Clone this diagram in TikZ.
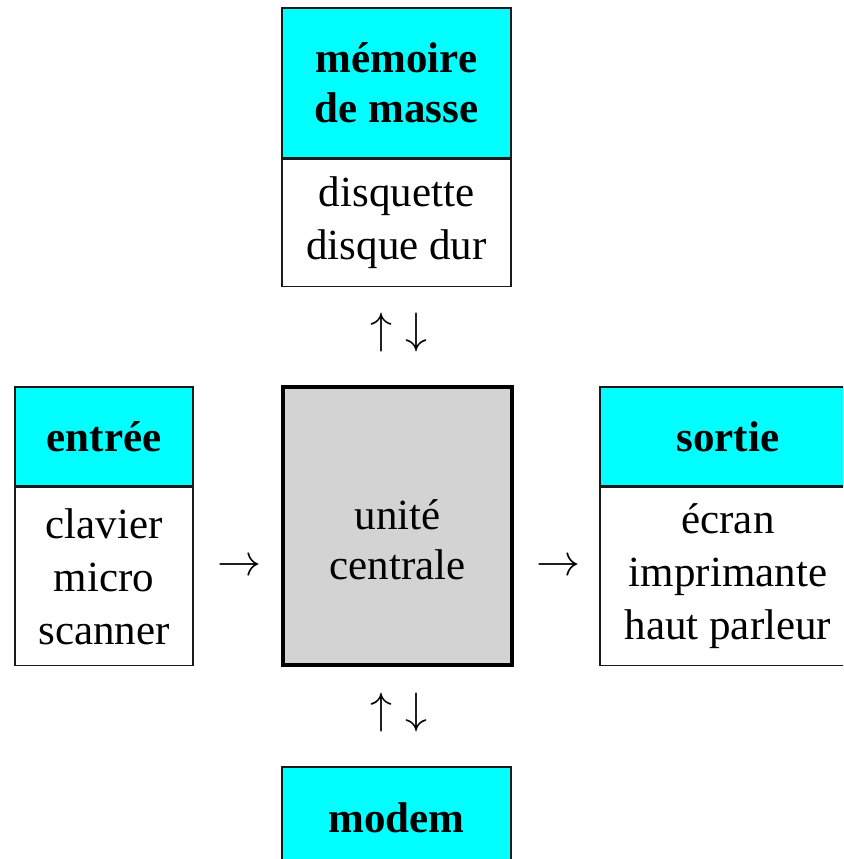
\RequirePackage{fix-cm}
\documentclass[tikz,border=0pt]{standalone}
\usepackage{fontspec}
\setmainfont{Liberation Serif}
\definecolor{headcyan}{HTML}{00FFFF}
\definecolor{cpugray}{HTML}{D3D3D3}
\definecolor{edge}{HTML}{1A1A1A}
\tikzset{
  boxpart/.style={draw=edge, line width=1.5pt, inner sep=0pt, align=center,
    font=\fontsize{43}{53}\selectfont},
  headpart/.style={boxpart, fill=headcyan, font=\fontsize{43}{50}\selectfont\bfseries},
  bodypart/.style={boxpart, fill=white},
  cpubox/.style={draw=black, line width=4pt, fill=cpugray, inner sep=0pt},
  glyph/.style={inner sep=0pt, font=\fontsize{44}{53}\selectfont},
  plain/.style={inner sep=0pt, align=center, font=\fontsize{43}{50}\selectfont}
}
\begin{document}
\begin{tikzpicture}[x=1pt, y=-1pt]
  \useasboundingbox (0,0) rectangle (843,859);
  \clip (0,0) rectangle (843,859);
  \fill[white] (0,0) rectangle (843,859);

  % mass storage (top)
  \node[headpart, minimum width=229pt, minimum height=150pt] (memhead) at (396.5,83)
    {mémoire\\de masse};
  \node[bodypart, minimum width=229pt, minimum height=127pt, anchor=north] (membody)
    at (memhead.south) {disquette\\disque dur};

  % input (left)
  \node[headpart, minimum width=178pt, minimum height=99pt] (inhead) at (104,436.5)
    {entrée};
  \node[bodypart, minimum width=178pt, minimum height=178pt, anchor=north] (inbody)
    at (inhead.south) {clavier\\micro\\scanner};

  % central unit
  \node[cpubox, minimum width=229pt, minimum height=278pt] (cpu) at (397.5,526) {};
  \node[plain] (cputext) at (397.5,540) {unité\\centrale};

  % output (right), running past the right edge
  \node[headpart, minimum width=256pt, minimum height=99pt] (outhead) at (728,436.5)
    {sortie};
  \node[bodypart, minimum width=256pt, minimum height=178pt, anchor=north] (outbody)
    at (outhead.south) {écran\\imprimante\\haut parleur};

  % modem (bottom), running past the bottom edge
  \node[headpart, minimum width=229pt, minimum height=102pt] (modem) at (396.5,818)
    {modem};

  % flow marks between the blocks
  \node[glyph] (memflow) at (399,332) {$\uparrow\;\downarrow$};
  \node[glyph] (modemflow) at (399,712) {$\uparrow\;\downarrow$};
  \node[glyph] (inflow) at (239,567) {$\rightarrow$};
  \node[glyph] (outflow) at (558,567) {$\rightarrow$};
\end{tikzpicture}
\end{document}
